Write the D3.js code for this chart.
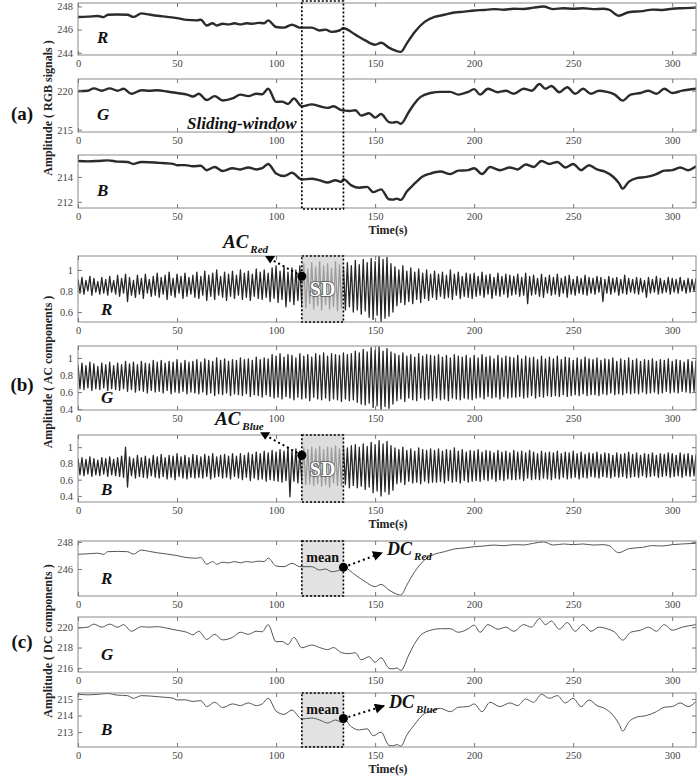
<!DOCTYPE html>
<html>
<head>
<meta charset="utf-8">
<script src="https://cdn.jsdelivr.net/npm/d3@7"></script>
<style>
  body { margin: 0; background: #fff; }
  svg text { font-family: "Liberation Serif", "Times New Roman", serif; }
  .tick text { fill: #444; font-size: 10.5px; }
  .tick line { stroke: #777; }
</style>
</head>
<body>
<div id="vis"></div>
<script>
const WIDTH = 699, HEIGHT = 776;
const LEFT = 78, RIGHT = 696;

// time axis
const timeMax = 312;
const xTicks = [0, 50, 100, 150, 200, 250, 300];
const windowStart = 113, windowEnd = 134;

// y tick labels for each panel
const rawRTicks = [244, 246, 248];
const rawGTicks = [215, 220];
const rawBTicks = [212, 214];
const acRTicks = [0.6, 0.8, 1];
const acGTicks = [0.4, 0.6, 0.8, 1];
const acBTicks = [0.4, 0.6, 0.8, 1];
const dcRTicks = [246, 248];
const dcGTicks = [216, 218, 220];
const dcBTicks = [213, 214, 215];

// slow (DC) course of each channel: time (s) and value
const redT = [0, 5, 10, 13, 15, 20, 25, 28, 32, 36, 40, 45, 50, 55, 60, 62, 65, 68, 70, 73, 76, 79, 82, 85, 88, 91, 94, 96,
  100, 104, 108, 112, 118, 122, 125, 128, 132, 134, 140, 145, 150, 153, 157, 160, 163, 166, 170, 175, 180, 185, 190, 195,
  200, 205, 210, 215, 220, 225, 230, 235, 240, 245, 250, 255, 260, 265, 268, 273, 278, 285, 290, 295, 300, 305, 312];
const redV = [247.09, 247.12, 247.17, 247.08, 247.28, 247.3, 247.28, 247.1, 247.4, 247.3, 247.2, 247.1, 246.99, 246.84, 246.8,
  246.85, 246.35, 246.55, 246.35, 246.5, 246.45, 246.55, 246.45, 246.55, 246.5, 246.58, 246.55, 246.8,
  246.22, 246.17, 246.42, 246.17, 246.17, 245.92, 246.0, 245.8, 245.92, 246.12, 245.56, 245.06, 244.69, 244.86, 244.44,
  244.2, 244.07, 244.81, 245.8, 246.67, 247.09, 247.28, 247.48, 247.55,
  247.65, 247.7, 247.77, 247.72, 247.8, 247.78, 247.9, 248.0, 247.77, 247.85, 247.8, 247.85, 247.77, 247.8, 247.73, 247.2,
  247.5, 247.6, 247.73, 247.7, 247.8, 247.85, 247.9];

const greenT = [0, 5, 8, 12, 16, 20, 23, 27, 32, 36, 40, 45, 50, 55, 58, 61, 65, 69, 73, 78, 82, 86, 90, 93, 96,
  100, 103, 106, 109, 113, 118, 122, 126, 129, 133, 137, 140, 143, 147, 150, 153, 157, 159, 161, 163, 167, 170, 173, 178,
  183, 188, 192, 197, 200, 203, 207, 212, 216, 220, 225, 229, 233, 236, 239, 243, 247, 251, 255, 259, 263, 267, 271, 275,
  279, 284, 288, 292, 296, 300, 305, 312];
const greenV = [219.93, 220.0, 220.3, 220.0, 220.3, 220.0, 220.25, 219.6, 220.05, 220.0, 220.05, 219.9, 219.7, 219.5, 219.25,
  219.6, 218.8, 219.3, 218.75, 219.0, 219.5, 219.3, 219.6, 219.55, 220.25,
  218.57, 218.6, 218.3, 219.0, 217.98, 218.25, 218.0, 217.8, 218.0, 217.5, 217.4, 217.5, 216.8, 217.1, 216.55, 217.0,
  215.97, 215.9, 216.0, 215.75, 217.27, 218.4, 219.2, 219.7,
  219.85, 219.85, 219.5, 219.85, 220.2, 219.5, 220.25, 219.8, 220.0, 219.6, 220.25, 220.0, 220.85, 220.25, 220.6, 219.8,
  220.45, 219.6, 220.25, 219.6, 220.0, 219.85, 219.5, 218.73,
  219.5, 219.7, 220.0, 219.6, 220.25, 219.7, 220.0, 220.25];

const blueT = [0, 5, 10, 15, 20, 25, 28, 32, 36, 40, 44, 48, 50, 54, 58, 62, 65, 69, 73, 78, 82, 86, 90, 93, 96,
  100, 104, 108, 113, 118, 122, 126, 130, 133, 134, 138, 142, 146, 149, 153, 157, 159, 161, 163, 166, 170, 174, 178,
  183, 188, 192, 197, 200, 204, 208, 213, 218, 222, 226, 230, 234, 238, 242, 246, 250, 254, 258, 262, 266, 270, 273, 275,
  278, 282, 287, 292, 296, 300, 304, 308, 312];
const blueV = [215.28, 215.25, 215.28, 215.33, 215.23, 215.2, 215.04, 215.2, 215.18, 215.14, 215.1, 215.05, 214.94, 214.95,
  214.85, 214.9, 214.54, 214.8, 214.48, 214.7, 214.6, 214.76, 214.6, 214.7, 215.04,
  214.27, 214.07, 214.33, 213.79, 213.85, 213.73, 213.55, 213.73, 213.6, 213.82, 213.32, 213.13, 213.2, 212.78, 213.0,
  212.2, 212.17, 212.25, 212.15, 212.82, 213.47, 214.03, 214.27,
  214.43, 214.23, 214.5, 214.54, 214.7, 214.23, 214.8, 214.54, 214.76, 214.6, 215.0, 214.8, 215.28, 215.04, 215.2, 214.76,
  215.04, 214.54, 214.94, 214.6, 214.42, 214.03, 213.52, 213.06,
  213.6, 213.9, 214.0, 214.23, 214.5, 214.54, 214.76, 214.54, 214.85];

// AC components, one reading per second from t = 0, values x100
const acRed = [
  91,78,93,77,90,80,94,76,92,79,89,77,93,78,91,76,94,79,90,77,
  95,75,92,78,96,70,93,76,90,74,95,77,92,73,96,78,91,75,94,76,
  97,74,93,77,95,72,98,76,92,74,96,78,94,73,97,75,93,77,95,74,
  98,73,94,76,99,71,95,75,97,72,100,76,94,74,98,71,96,75,99,73,
  95,76,100,72,97,74,99,71,96,75,101,73,98,72,100,74,97,70,102,73,
  104,69,99,72,103,65,98,70,102,67,100,71,104,66,106,64,101,68,107,63,
  103,66,108,62,104,67,106,63,102,65,108,61,105,64,103,62,107,65,104,60,
  109,62,105,58,110,61,107,55,111,53,108,57,113,51,110,54,112,56,106,60,
  103,66,100,69,104,67,99,70,102,68,98,72,101,69,97,73,100,71,96,74,
  99,72,96,75,98,73,95,74,100,72,96,76,98,73,94,75,97,74,96,73,
  97,75,94,76,98,74,95,77,96,73,93,76,97,75,94,77,96,74,95,76,
  94,77,96,75,93,76,97,68,94,76,95,77,92,75,96,74,93,78,95,76,
  93,77,96,75,92,78,94,74,95,77,91,76,94,78,92,77,95,76,93,78,
  92,77,94,79,93,70,91,78,94,77,92,79,93,76,91,78,95,77,92,79,
  91,78,93,77,92,79,90,74,93,78,91,79,94,77,92,78,90,79,93,77,
  92,79,91,78,93,80,90,78,92,79,91,80,92];
const acGreen = [
  92,64,94,63,91,65,95,62,93,64,90,63,94,65,92,62,95,64,91,63,
  94,62,92,64,96,61,93,63,95,60,92,62,96,61,94,59,93,62,97,60,
  95,61,97,59,94,62,96,58,95,60,98,59,94,61,97,58,95,60,96,59,
  98,58,95,60,99,57,97,59,96,56,100,58,97,57,99,59,96,56,98,58,
  97,57,100,56,98,58,99,55,97,57,101,56,98,54,100,57,99,55,104,53,
  102,54,105,52,101,55,104,53,103,51,100,54,105,52,102,53,104,50,101,54,
  105,52,103,51,106,53,102,50,105,52,104,51,103,49,106,52,104,50,105,51,
  108,48,106,46,110,45,107,47,112,42,109,44,113,40,108,43,111,41,107,46,
  105,50,103,52,106,49,102,53,104,51,101,50,105,53,102,51,104,52,103,50,
  102,53,104,51,101,52,103,50,100,53,104,52,102,51,101,53,103,52,100,51,
  103,53,100,54,104,52,101,55,102,53,99,54,103,52,100,55,102,53,101,54,
  100,54,103,55,99,53,102,54,100,56,101,53,98,55,102,54,99,56,101,55,
  99,56,102,55,98,57,101,55,100,56,97,57,100,56,98,58,101,56,99,57,
  98,57,100,56,97,58,99,57,98,59,100,57,96,58,99,57,97,59,100,58,
  97,59,99,58,96,60,98,58,97,59,99,60,96,58,98,59,97,61,99,59,
  96,60,98,59,97,61,95,60,98,59,96,61,97];
const acBlue = [
  86,66,87,65,85,67,88,64,86,66,84,65,87,67,86,64,88,66,85,65,
  87,64,89,63,100,51,88,65,86,62,90,64,87,63,89,62,86,65,90,63,
  88,62,91,64,87,61,90,63,89,60,92,64,88,62,90,61,87,63,91,62,
  90,63,88,62,91,64,89,61,92,63,88,64,90,62,91,63,89,61,92,64,
  89,62,92,60,90,63,93,59,91,62,94,60,92,61,95,58,93,60,96,59,
  94,58,97,57,95,59,100,39,96,58,98,56,95,57,99,54,97,55,100,53,
  98,55,101,52,97,54,100,51,99,56,102,53,98,52,101,54,99,50,102,53,
  103,50,100,52,104,48,101,51,106,44,103,46,108,40,104,45,107,42,102,47,
  99,55,97,57,100,54,96,58,98,56,95,57,99,55,97,58,96,56,98,57,
  96,57,98,58,95,56,97,59,96,57,99,58,95,56,97,59,94,57,96,58,
  95,59,97,58,94,60,96,59,95,61,93,58,96,60,94,59,95,61,93,60,
  96,60,94,61,95,59,93,62,96,60,94,61,92,60,95,62,93,61,94,60,
  93,62,95,61,92,63,94,61,93,62,95,63,92,61,94,63,91,62,93,64,
  92,63,94,62,91,64,93,63,92,62,90,64,93,63,91,64,92,62,94,63,
  91,64,93,63,90,65,92,63,91,64,93,65,90,63,92,64,91,65,93,63,
  92,64,90,65,93,63,91,65,92,64,90,65,91];

const dcPoints = (T, V) => d3.zip(T, V);
const acPoints = (vals) => vals.map((v, i) => [i, v / 100]);

// panel layout: vertical extent in pixels, y range, kind of trace
const panels = [
  {id: "aR", top: 3,   bottom: 55,  domain: [243.8, 248.3], ticks: rawRTicks, data: dcPoints(redT, redV),     kind: "raw", label: "R"},
  {id: "aG", top: 79,  bottom: 132, domain: [214.7, 221.5], ticks: rawGTicks, data: dcPoints(greenT, greenV), kind: "raw", label: "G"},
  {id: "aB", top: 155, bottom: 208, domain: [211.5, 215.76], ticks: rawBTicks, data: dcPoints(blueT, blueV),  kind: "raw", label: "B"},
  {id: "bR", top: 256, bottom: 322, domain: [0.505, 1.133], ticks: acRTicks, data: acPoints(acRed),   kind: "ac", label: "R", box: "sd"},
  {id: "bG", top: 346, bottom: 410, domain: [0.39, 1.14],   ticks: acGTicks, data: acPoints(acGreen), kind: "ac", label: "G"},
  {id: "bB", top: 435, bottom: 502, domain: [0.325, 1.15], ticks: acBTicks, data: acPoints(acBlue),  kind: "ac", label: "B", box: "sd"},
  {id: "cR", top: 541, bottom: 596, domain: [244.0, 248.07], ticks: dcRTicks, data: dcPoints(redT, redV),     kind: "dc", label: "R", box: "mean"},
  {id: "cG", top: 617, bottom: 672, domain: [215.6, 221.0],  ticks: dcGTicks, data: dcPoints(greenT, greenV), kind: "dc", label: "G"},
  {id: "cB", top: 693, bottom: 747, domain: [212.1, 215.36], ticks: dcBTicks, data: dcPoints(blueT, blueV),   kind: "dc", label: "B", box: "mean"}
];

const FRAME = d3.select("#vis").append("svg")
  .attr("width", WIDTH).attr("height", HEIGHT);

const defs = FRAME.append("defs");
defs.append("marker").attr("id", "arrow")
  .attr("viewBox", "0 0 10 10").attr("refX", 9).attr("refY", 5)
  .attr("markerWidth", 11).attr("markerHeight", 10)
  .attr("markerUnits", "userSpaceOnUse").attr("orient", "auto")
  .append("path").attr("d", "M0,0 L10,5 L0,10 z").attr("fill", "#000");

const X_SCALE = d3.scaleLinear().domain([0, timeMax]).range([LEFT, RIGHT]);
const fmt = d3.format("~g");

const lineStyle = {
  raw: {stroke: "#2b2b2b", width: 2.4, curve: d3.curveMonotoneX},
  ac:  {stroke: "#262626", width: 1.3, curve: d3.curveLinear},
  dc:  {stroke: "#555", width: 1, curve: d3.curveMonotoneX}
};

panels.forEach(p => {
  const y = d3.scaleLinear().domain(p.domain).range([p.bottom, p.top]);
  p.y = y;

  defs.append("clipPath").attr("id", "clip-" + p.id)
    .append("rect")
      .attr("x", LEFT).attr("y", p.top)
      .attr("width", RIGHT - LEFT).attr("height", p.bottom - p.top);

  const g = FRAME.append("g").attr("clip-path", `url(#clip-${p.id})`);

  // the mean window sits under the DC trace
  if (p.box === "mean") {
    g.append("rect")
      .attr("x", X_SCALE(windowStart)).attr("y", p.top)
      .attr("width", X_SCALE(windowEnd) - X_SCALE(windowStart))
      .attr("height", p.bottom - p.top)
      .attr("fill", "#e2e2e2");
  }

  const style = lineStyle[p.kind];
  const line = d3.line().x(d => X_SCALE(d[0])).y(d => y(d[1])).curve(style.curve);
  g.append("path").datum(p.data)
    .attr("d", line)
    .attr("fill", "none")
    .attr("stroke", style.stroke)
    .attr("stroke-width", style.width)
    .attr("stroke-linejoin", "round");

  // frame + ticks on all four sides (pointing inward)
  FRAME.append("rect")
    .attr("x", LEFT).attr("y", p.top)
    .attr("width", RIGHT - LEFT).attr("height", p.bottom - p.top)
    .attr("fill", "none").attr("stroke", "#8a8a8a");

  FRAME.append("g").attr("transform", `translate(0,${p.bottom})`)
    .call(d3.axisBottom(X_SCALE).tickValues(xTicks).tickSize(-4).tickPadding(5))
    .call(a => a.select(".domain").remove());
  FRAME.append("g").attr("transform", `translate(0,${p.top})`)
    .call(d3.axisTop(X_SCALE).tickValues(xTicks).tickSize(-4).tickFormat(""))
    .call(a => a.select(".domain").remove());
  FRAME.append("g").attr("transform", `translate(${LEFT},0)`)
    .call(d3.axisLeft(y).tickValues(p.ticks).tickSize(-4).tickPadding(5).tickFormat(fmt))
    .call(a => a.select(".domain").remove());
  FRAME.append("g").attr("transform", `translate(${RIGHT},0)`)
    .call(d3.axisRight(y).tickValues(p.ticks).tickSize(-4).tickFormat(""))
    .call(a => a.select(".domain").remove());

  // the SD window is laid over the AC trace
  if (p.box === "sd") {
    FRAME.append("rect")
      .attr("x", X_SCALE(windowStart)).attr("y", p.top)
      .attr("width", X_SCALE(windowEnd) - X_SCALE(windowStart))
      .attr("height", p.bottom - p.top)
      .attr("fill", "#cfcfcf").attr("fill-opacity", 0.7)
      .attr("stroke", "#000").attr("stroke-width", 1.6).attr("stroke-dasharray", "2,2");
    FRAME.append("text")
      .attr("x", (X_SCALE(windowStart) + X_SCALE(windowEnd)) / 2)
      .attr("y", (p.top + p.bottom) / 2 + 7)
      .attr("text-anchor", "middle")
      .attr("font-size", 20).attr("font-weight", "bold")
      .attr("fill", "#fff").attr("stroke", "#555").attr("stroke-width", 1.6)
      .attr("paint-order", "stroke")
      .text("SD");
  }
  if (p.box === "mean") {
    FRAME.append("rect")
      .attr("x", X_SCALE(windowStart)).attr("y", p.top)
      .attr("width", X_SCALE(windowEnd) - X_SCALE(windowStart))
      .attr("height", p.bottom - p.top)
      .attr("fill", "none")
      .attr("stroke", "#000").attr("stroke-width", 1.6).attr("stroke-dasharray", "2,2");
    FRAME.append("text")
      .attr("x", (X_SCALE(windowStart) + X_SCALE(windowEnd)) / 2)
      .attr("y", p.top + 21)
      .attr("text-anchor", "middle")
      .attr("font-size", 14).attr("font-weight", "bold")
      .attr("fill", "#111")
      .text("mean");
  }

  // channel letter
  FRAME.append("text")
    .attr("x", p.kind === "raw" ? 97 : 101)
    .attr("y", p.bottom - (p.kind === "ac" ? 7 : 12))
    .attr("font-size", 17).attr("font-weight", "bold").attr("font-style", "italic")
    .attr("fill", "#111")
    .text(p.label);
});

const byId = {};
panels.forEach(p => byId[p.id] = p);

// sliding window across the raw signals
FRAME.append("rect")
  .attr("x", X_SCALE(windowStart)).attr("y", 1)
  .attr("width", X_SCALE(windowEnd) - X_SCALE(windowStart))
  .attr("height", 208)
  .attr("fill", "none")
  .attr("stroke", "#000").attr("stroke-width", 1.7).attr("stroke-dasharray", "2,2");

FRAME.append("text")
  .attr("x", 187).attr("y", 129)
  .attr("font-size", 17).attr("font-weight", "bold").attr("font-style", "italic")
  .attr("fill", "#111")
  .text("Sliding-window");

// AC annotations: dot on the window edge, dotted leader to a triangle and the label
const acNotes = [
  {panel: "bR", dotV: 0.94, triT: 97, triV: 1.10, main: "AC", sub: "Red", tx: 223, ty: 248},
  {panel: "bB", dotV: 0.90, triT: 94.5, triV: 1.14, main: "AC", sub: "Blue", tx: 215, ty: 425}
];
acNotes.forEach(n => {
  const y = byId[n.panel].y;
  const dx = X_SCALE(windowStart), dy = y(n.dotV);
  const tx = X_SCALE(n.triT), ty = y(n.triV);
  FRAME.append("line")
    .attr("x1", dx).attr("y1", dy).attr("x2", tx + 3).attr("y2", ty + 1)
    .attr("stroke", "#000").attr("stroke-width", 2).attr("stroke-dasharray", "2,3");
  FRAME.append("path")
    .attr("transform", `translate(${tx},${ty})`)
    .attr("d", "M-5,-3.5 L5,-3.5 L0,4 z")
    .attr("fill", "#000");
  FRAME.append("circle").attr("cx", dx).attr("cy", dy).attr("r", 4.5).attr("fill", "#000");
  const t = FRAME.append("text")
    .attr("x", n.tx).attr("y", n.ty)
    .attr("font-weight", "bold").attr("font-style", "italic").attr("fill", "#111");
  t.append("tspan").attr("font-size", 19).text(n.main);
  t.append("tspan").attr("font-size", 11).attr("dx", 2).attr("dy", 5).text(n.sub);
});

// DC annotations: dot on the window end, dotted arrow to the label
const dcNotes = [
  {panel: "cR", T: redT, V: redV, endT: 153.5, endV: 247.2, sub: "Red"},
  {panel: "cB", T: blueT, V: blueV, endT: 154.5, endV: 214.58, sub: "Blue"}
];
dcNotes.forEach(n => {
  const y = byId[n.panel].y;
  const v = n.V[n.T.indexOf(windowEnd)];
  const dx = X_SCALE(windowEnd), dy = y(v);
  const ex = X_SCALE(n.endT), ey = y(n.endV);
  FRAME.append("line")
    .attr("x1", dx).attr("y1", dy).attr("x2", ex).attr("y2", ey)
    .attr("stroke", "#000").attr("stroke-width", 2).attr("stroke-dasharray", "2,3.2")
    .attr("marker-end", "url(#arrow)");
  FRAME.append("circle").attr("cx", dx).attr("cy", dy).attr("r", 4.5).attr("fill", "#000");
  const t = FRAME.append("text")
    .attr("x", ex + 5).attr("y", ey + 2)
    .attr("font-weight", "bold").attr("font-style", "italic").attr("fill", "#111");
  t.append("tspan").attr("font-size", 18).text("DC");
  t.append("tspan").attr("font-size", 11).attr("dx", 2).attr("dy", 5).text(n.sub);
});

// section letters, axis titles
const sections = [
  {tag: "(a)", tagY: 120, title: "Amplitude ( RGB signals )", titleY: 108, timeY: 234},
  {tag: "(b)", tagY: 391, title: "Amplitude ( AC components )", titleY: 372, timeY: 528},
  {tag: "(c)", tagY: 648, title: "Amplitude ( DC components )", titleY: 641, timeY: 773}
];
sections.forEach(s => {
  FRAME.append("text")
    .attr("x", 22).attr("y", s.tagY).attr("text-anchor", "middle")
    .attr("font-size", 19).attr("font-weight", "bold").attr("fill", "#111")
    .text(s.tag);
  FRAME.append("text")
    .attr("transform", `translate(52,${s.titleY}) rotate(-90)`)
    .attr("text-anchor", "middle")
    .attr("font-size", 12).attr("font-weight", "bold").attr("fill", "#222")
    .text(s.title);
  FRAME.append("text")
    .attr("x", 388).attr("y", s.timeY).attr("text-anchor", "middle")
    .attr("font-size", 12).attr("font-weight", "bold").attr("fill", "#222")
    .text("Time(s)");
});
</script>
</body>
</html>
